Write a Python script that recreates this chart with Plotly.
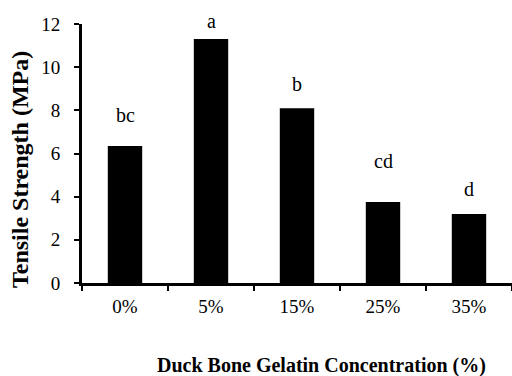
import plotly.graph_objects as go

categories = ["0%", "5%", "15%", "25%", "35%"]
tensile_strength = [6.35, 11.3, 8.1, 3.75, 3.2]
group_letters = ["bc", "a", "b", "cd", "d"]
letter_heights = [7.46, 11.81, 8.90, 5.33, 4.01]
y_ticks = [0, 2, 4, 6, 8, 10, 12]

SERIF = "Liberation Serif, Times New Roman, serif"

fig = go.Figure()
fig.add_trace(go.Bar(
    x=categories, y=tensile_strength,
    marker=dict(color="black", line=dict(width=0)),
    showlegend=False,
))

for cat, lab, h in zip(categories, group_letters, letter_heights):
    fig.add_annotation(x=cat, y=h, text=lab, showarrow=False,
                       xref="x", yref="y", yanchor="bottom", yshift=-6,
                       font=dict(family=SERIF, size=20, color="black"))

fig.add_annotation(text="<b>Tensile Strength (MPa)</b>", textangle=-90,
                   xref="paper", yref="paper", x=-62/430, y=0.436,
                   xanchor="center", yanchor="middle", showarrow=False,
                   font=dict(family=SERIF, size=24, color="black"))
fig.add_annotation(text="<b>Duck Bone Gelatin Concentration (%)</b>",
                   xref="paper", yref="paper", x=0.556, y=-0.317,
                   xanchor="center", yanchor="middle", showarrow=False,
                   font=dict(family=SERIF, size=20, color="black"))

fig.update_layout(
    width=512, height=376,
    margin=dict(l=82, r=0, t=24, b=93),
    paper_bgcolor="white", plot_bgcolor="white",
    bargap=0.6,
    xaxis=dict(
        type="category", showline=True, linecolor="black", linewidth=2.5,
        ticks="outside", tickson="boundaries", ticklen=5, tickwidth=2,
        tickcolor="black", showgrid=False, zeroline=False,
        tickfont=dict(family=SERIF, size=19, color="black"),
        ticklabelstandoff=4,
    ),
    yaxis=dict(
        range=[0, 12], tickvals=y_ticks, showline=True, linecolor="black",
        linewidth=3, ticks="outside", ticklen=5, tickwidth=2, tickcolor="black",
        showgrid=False, zeroline=False,
        tickfont=dict(family=SERIF, size=19, color="black"),
        ticklabelstandoff=10,
    ),
)

fig.write_html("out.html", config={"displayModeBar": False},
               post_script="document.body.style.margin='0';document.body.style.overflow='hidden';")
